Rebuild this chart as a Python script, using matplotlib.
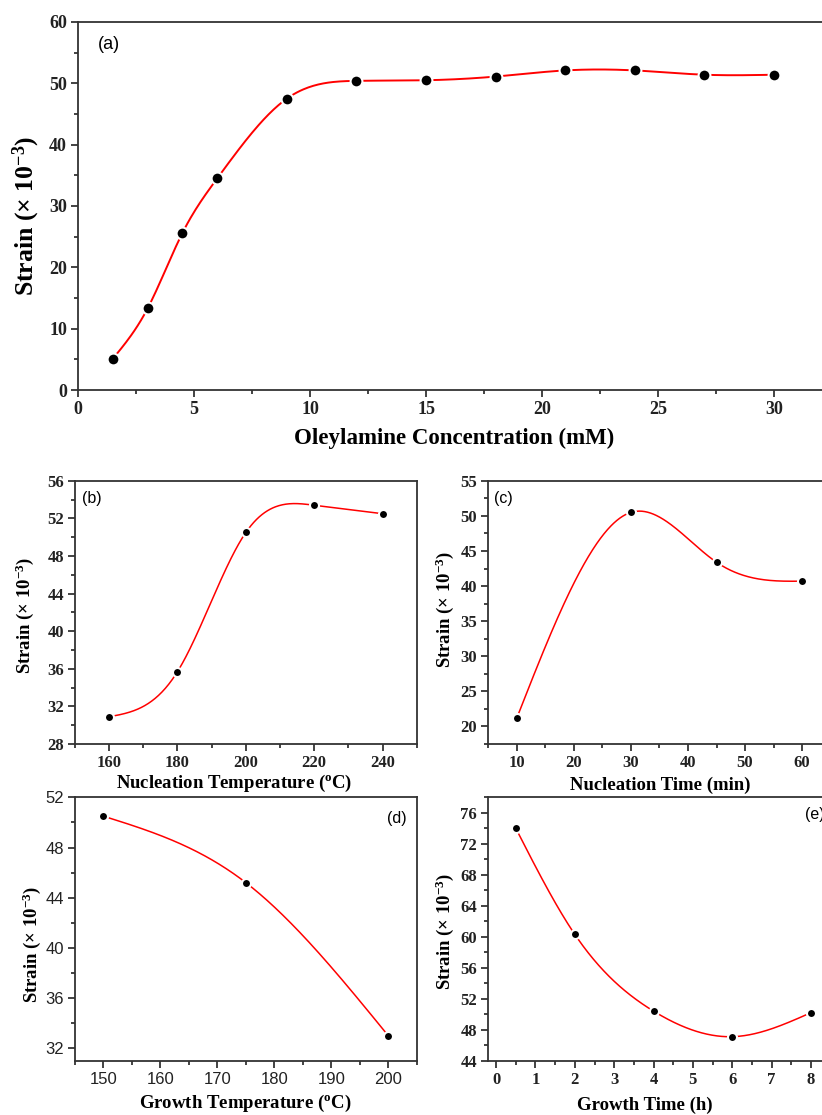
import numpy as np
import matplotlib
matplotlib.use('Agg')
import matplotlib.pyplot as plt
from matplotlib.ticker import MultipleLocator

plt.rcParams['mathtext.fontset'] = 'custom'
plt.rcParams['mathtext.rm'] = 'Liberation Serif:bold'
plt.rcParams['mathtext.it'] = 'Liberation Serif:bold'
plt.rcParams['mathtext.bf'] = 'Liberation Serif:bold'
plt.rcParams['mathtext.default'] = 'rm'

# ------------------------------------------------------------
# Данные
# ------------------------------------------------------------
oleylamine_mM = [1.5, 3, 4.5, 6, 9, 12, 15, 18, 21, 24, 27, 30]
strain_a = [5.1, 13.3, 25.6, 34.5, 47.5, 50.4, 50.5, 51.1, 52.1, 52.1, 51.4, 51.4]

nucl_temp = [160, 180, 200, 220, 240]
strain_b = [30.9, 35.7, 50.5, 53.4, 52.5]

nucl_time = [10, 30, 45, 60]
strain_c = [21.2, 50.5, 43.4, 40.7]

growth_temp = [150, 175, 200]
strain_d = [50.5, 45.2, 33.0]

growth_time = [0.5, 2, 4, 6, 8]
strain_e = [74.0, 60.3, 50.4, 47.1, 50.2]

SERIF = 'Liberation Serif'
SANS = 'Liberation Sans'
YLABEL = 'Strain (\u00d7 10$^{-3}$)'


def natural_spline(x, y, n=400):
    """Натуральный кубический сплайн через точки (как Spline в Origin)."""
    x = np.asarray(x, float)
    y = np.asarray(y, float)
    k = len(x)
    h = np.diff(x)
    A = np.zeros((k, k))
    r = np.zeros(k)
    A[0, 0] = A[-1, -1] = 1.0
    for i in range(1, k - 1):
        A[i, i - 1] = h[i - 1]
        A[i, i] = 2 * (h[i - 1] + h[i])
        A[i, i + 1] = h[i]
        r[i] = 6 * ((y[i + 1] - y[i]) / h[i] - (y[i] - y[i - 1]) / h[i - 1])
    m = np.linalg.solve(A, r)
    xs = np.linspace(x[0], x[-1], n)
    idx = np.clip(np.searchsorted(x, xs) - 1, 0, k - 2)
    x0, x1 = x[idx], x[idx + 1]
    hh = x1 - x0
    t0, t1 = x1 - xs, xs - x0
    ys = (m[idx] * t0 ** 3 + m[idx + 1] * t1 ** 3) / (6 * hh) \
        + (y[idx] / hh - m[idx] * hh / 6) * t0 \
        + (y[idx + 1] / hh - m[idx + 1] * hh / 6) * t1
    return xs, ys


def draw_panel(ax, x, y, ms, lw, xlim, ylim, xmaj, xmin, ymaj, ymin,
               tick_size, tick_font=SERIF, tick_weight='bold'):
    xs, ys = natural_spline(x, y)
    ax.plot(xs, ys, color='red', lw=lw, zorder=2)
    ax.plot(x, y, 'o', color='black', ms=ms, mec='white', mew=1.5, zorder=3)
    ax.set_xlim(*xlim)
    ax.set_ylim(*ylim)
    ax.xaxis.set_major_locator(MultipleLocator(xmaj))
    ax.xaxis.set_minor_locator(MultipleLocator(xmin))
    ax.yaxis.set_major_locator(MultipleLocator(ymaj))
    ax.yaxis.set_minor_locator(MultipleLocator(ymin))
    ax.tick_params(which='both', direction='out', top=False, right=False,
                   width=1.2, colors='#222222')
    ax.tick_params(which='major', length=5, labelsize=tick_size, pad=3)
    ax.tick_params(which='minor', length=3)
    for lab in ax.get_xticklabels() + ax.get_yticklabels():
        lab.set_fontfamily(tick_font)
        lab.set_fontweight(tick_weight)
        lab.set_color('#222222')
    for sp in ax.spines.values():
        sp.set_linewidth(1.3)
        sp.set_color('#333333')


fig = plt.figure(figsize=(8.22, 11.15), dpi=100)

# (a)
ax_a = fig.add_axes([0.0949, 0.6502, 0.9173, 0.3301])
draw_panel(ax_a, oleylamine_mM, strain_a, 8.5, 1.4, (0, 32.5), (0, 60),
           5, 2.5, 10, 5, 13)
ax_a.set_xlabel('Oleylamine Concentration (mM)', fontfamily=SERIF,
                fontweight='bold', fontsize=16.5, va='center')
ax_a.xaxis.set_label_coords(0.4987, -0.1304)
ax_a.set_ylabel(YLABEL, fontfamily=SERIF, fontweight='bold', fontsize=18.5, va='center')
ax_a.yaxis.set_label_coords(-0.069, 0.473)
ax_a.text(0.0265, 0.9375, '(a)', transform=ax_a.transAxes, fontfamily=SANS,
          fontsize=13, va='center', ha='left')

# (b)
ax_b = fig.add_axes([0.0912, 0.3327, 0.4157, 0.2361])
draw_panel(ax_b, nucl_temp, strain_b, 6.5, 1.1, (150, 250), (28, 56),
           20, 10, 4, 2, 12)
ax_b.set_xlabel('Nucleation Temperature ($^{o}$C)', fontfamily=SERIF,
                fontweight='bold', fontsize=13.5, va='center')
ax_b.xaxis.set_label_coords(0.465, -0.148)
ax_b.set_ylabel(YLABEL, fontfamily=SERIF, fontweight='bold', fontsize=13.5, va='center')
ax_b.yaxis.set_label_coords(-0.146, 0.49)
ax_b.text(0.02, 0.934, '(b)', transform=ax_b.transAxes, fontfamily=SANS,
          fontsize=11.5, va='center', ha='left')

# (c)
ax_c = fig.add_axes([0.594, 0.3327, 0.4165, 0.2361])
draw_panel(ax_c, nucl_time, strain_c, 6.5, 1.1, (5, 65), (17.5, 55),
           10, 5, 5, 2.5, 12)
ax_c.set_xlabel('Nucleation Time (min)', fontfamily=SERIF,
                fontweight='bold', fontsize=13.5, va='center')
ax_c.xaxis.set_label_coords(0.501, -0.156)
ax_c.set_ylabel(YLABEL, fontfamily=SERIF, fontweight='bold', fontsize=13.5, va='center')
ax_c.yaxis.set_label_coords(-0.126, 0.513)
ax_c.text(0.017, 0.934, '(c)', transform=ax_c.transAxes, fontfamily=SANS,
          fontsize=11.5, va='center', ha='left')

# (d)
ax_d = fig.add_axes([0.0912, 0.0487, 0.4157, 0.2362])
draw_panel(ax_d, growth_temp, strain_d, 6.5, 1.1, (145, 205), (31, 52),
           10, 5, 4, 2, 12, tick_font=SANS, tick_weight='normal')
ax_d.set_xlabel('Growth Temperature ($^{o}$C)', fontfamily=SERIF,
                fontweight='bold', fontsize=13.5, va='center')
ax_d.xaxis.set_label_coords(0.4975, -0.161)
ax_d.set_ylabel(YLABEL, fontfamily=SERIF, fontweight='bold', fontsize=13.5, va='center')
ax_d.yaxis.set_label_coords(-0.126, 0.443)
ax_d.text(0.972, 0.921, '(d)', transform=ax_d.transAxes, fontfamily=SANS,
          fontsize=11.5, va='center', ha='right')

# (e)
ax_e = fig.add_axes([0.594, 0.0487, 0.4165, 0.2362])
draw_panel(ax_e, growth_time, strain_e, 6.5, 1.1, (-0.2, 8.5), (44, 78),
           1, 0.5, 4, 2, 12)
ax_e.set_xlabel('Growth Time (h)', fontfamily=SERIF,
                fontweight='bold', fontsize=13.5, va='center')
ax_e.xaxis.set_label_coords(0.458, -0.168)
ax_e.set_ylabel(YLABEL, fontfamily=SERIF, fontweight='bold', fontsize=13.5, va='center')
ax_e.yaxis.set_label_coords(-0.126, 0.492)
# в оригинале метка (e) тоже обрезана правым краем
ax_e.text(0.925, 0.936, '(e)', transform=ax_e.transAxes, fontfamily=SANS,
          fontsize=11.5, va='center', ha='left')

fig.savefig('out.png', dpi=100)
